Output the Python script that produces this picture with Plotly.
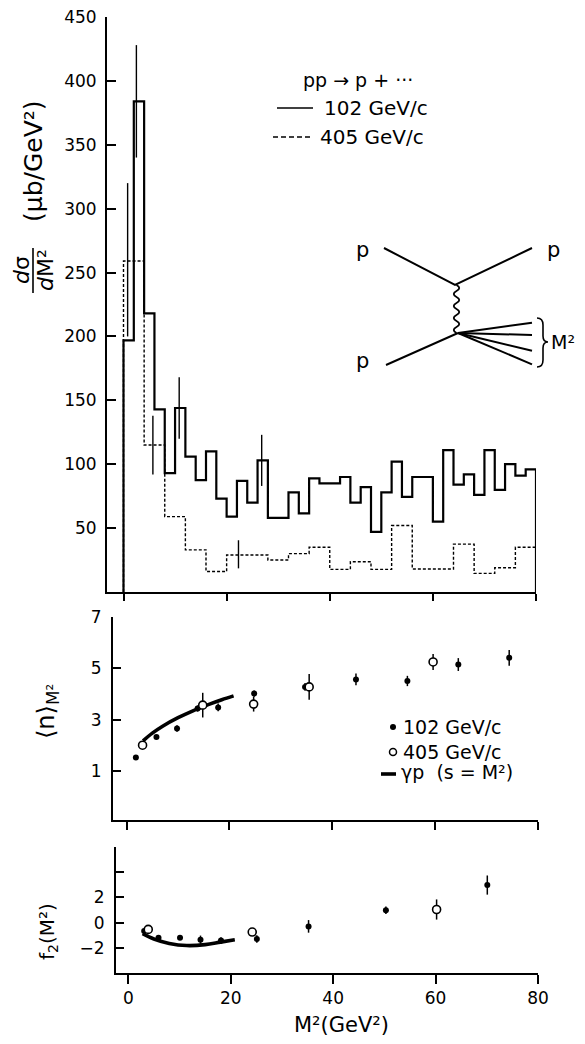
import plotly.graph_objects as go

PAGE_W, PAGE_H = 585, 1044
OFF = 8                      # default body margin of the html page
W, H = PAGE_W - OFF, PAGE_H - OFF
FONT = "DejaVu Sans"

# ---------------- data ----------------
# top panel: d sigma / dM^2 histograms (bin edges in GeV^2, values in microbarn/GeV^2)
edges_102 = [0, 2, 4, 6, 8, 10, 12, 14, 16, 18, 20, 22, 24, 26, 28, 32, 34, 36, 38, 42,
             44, 46, 48, 50, 52, 54, 56, 60, 62, 64, 66, 68, 70, 72, 74, 76, 78, 80]
vals_102 = [197, 384, 218, 143, 93, 144, 106, 87.5, 110, 73, 59, 87, 70, 103, 58, 78, 61.5,
            89, 85, 90, 70, 82, 47, 78, 102, 74.5, 90, 55, 111, 84, 92, 76, 111, 80, 100, 91, 96]
edges_405 = [0, 4, 8, 12, 16, 20, 28, 32, 36, 40, 44, 48, 52, 56, 64, 68, 72, 76, 80]
vals_405 = [259, 115, 59, 33, 16, 29, 25, 30, 35, 17.7, 23.7, 17.7, 52, 18, 37.5, 14.6, 19, 35]

err_x_102 = [2.5, 10.8, 26.8]
err_y_102 = [384, 144, 103]
err_e_102 = [44, 24, 20]
err_x_405 = [0.8, 5.7, 22.3]
err_y_405 = [260, 115, 29.5]
err_e_405 = [60, 23, 11]

# middle panel: <n> vs M^2
m2_102 = [1.8, 5.8, 9.8, 13.8, 17.8, 24.8, 34.7, 44.6, 54.6, 64.5, 74.4]
n_102 = [1.53, 2.33, 2.66, 3.44, 3.48, 4.02, 4.28, 4.57, 4.51, 5.15, 5.41]
n_102_err = [0.04, 0.05, 0.13, 0.12, 0.15, 0.12, 0.15, 0.23, 0.2, 0.25, 0.31]
m2_405 = [3.1, 14.8, 24.7, 35.5, 59.6]
n_405 = [2.01, 3.57, 3.61, 4.28, 5.25]
n_405_err = [0.05, 0.48, 0.29, 0.5, 0.31]
gp_x = [3.2, 5, 7, 10, 13, 16, 18.5, 20.8]
gp_n = [2.18, 2.48, 2.75, 3.08, 3.36, 3.6, 3.78, 3.93]

# bottom panel: f2 vs M^2
f2_x_102 = [3.1, 5.9, 10.1, 14.1, 18.1, 25.1, 35.2, 50.3, 70.1]
f2_102 = [-0.67, -1.2, -1.2, -1.36, -1.42, -1.3, -0.3, 0.98, 2.98]
f2_102_err = [0.1, 0.1, 0.1, 0.33, 0.25, 0.3, 0.5, 0.3, 0.76]
f2_x_405 = [3.9, 24.2, 60.2]
f2_405 = [-0.54, -0.75, 1.04]
f2_405_err = [0.1, 0.25, 0.8]
gp_f2_x = [2.8, 5, 8, 11.4, 15, 18, 20.8]
gp_f2 = [-0.88, -1.3, -1.65, -1.82, -1.75, -1.55, -1.36]

x_ticks = [0, 20, 40, 60, 80]
top_y_ticks = [50, 100, 150, 200, 250, 300, 350, 400, 450]
mid_y_ticks = [1, 3, 5, 7]
bot_y_ticks = [-2, 0, 2]
bot_y_minor = [4, 6]

# Feynman diagram (decoration, pixel coordinates of the page)
diag_x = [384, 455, 532, None, 386, 458, None,
          458, 532, None, 458, 532, None, 458, 532, None, 458, 532]
diag_y = [248, 285, 248, None, 365, 333, None,
          333, 322.7, None, 333, 335, None, 333, 350.7, None, 333, 364.3]
wave_y = [285, 291, 297, 303, 309, 315, 321, 327, 333]

# ---------------- helpers ----------------
def xdom(a, b):
    return [(a - OFF) / W, (b - OFF) / W]

def ydom(top, bottom):
    return [1 - (bottom - OFF) / H, 1 - (top - OFF) / H]

def step_xy(edges, vals):
    xs = [edges[0]] + edges[:-1] + [edges[-1], edges[-1]]
    ys = [0] + vals + [vals[-1], 0]
    return xs, ys

fig = go.Figure()

# ---- top panel ----
sx, sy = step_xy(edges_102, vals_102)
fig.add_trace(go.Scatter(x=sx, y=sy, mode="lines", line=dict(color="black", width=2.2, shape="hv"),
                         xaxis="x", yaxis="y", showlegend=False))
dx, dy = step_xy(edges_405, vals_405)
fig.add_trace(go.Scatter(x=dx, y=dy, mode="lines",
                         line=dict(color="black", width=1.4, shape="hv", dash="3px,2px"),
                         xaxis="x", yaxis="y", showlegend=False))
for ex, ey, ee in [(err_x_102, err_y_102, err_e_102), (err_x_405, err_y_405, err_e_405)]:
    fig.add_trace(go.Scatter(x=ex, y=ey, mode="markers", marker=dict(size=1, opacity=0),
                             error_y=dict(type="data", array=ee, width=0, thickness=1.4, color="black"),
                             xaxis="x", yaxis="y", showlegend=False))

# ---- middle panel ----
fig.add_trace(go.Scatter(x=gp_x, y=gp_n, mode="lines", line=dict(color="black", width=3.6, shape="spline"),
                         xaxis="x2", yaxis="y2", showlegend=False))
fig.add_trace(go.Scatter(x=m2_102, y=n_102, mode="markers",
                         marker=dict(size=6, color="black"),
                         error_y=dict(type="data", array=n_102_err, width=0, thickness=1.5, color="black"),
                         xaxis="x2", yaxis="y2", showlegend=False))
fig.add_trace(go.Scatter(x=m2_405, y=n_405, mode="markers",
                         marker=dict(size=8, color="white", line=dict(color="black", width=1.6)),
                         error_y=dict(type="data", array=n_405_err, width=0, thickness=1.5, color="black"),
                         xaxis="x2", yaxis="y2", showlegend=False))

# ---- bottom panel ----
fig.add_trace(go.Scatter(x=gp_f2_x, y=gp_f2, mode="lines", line=dict(color="black", width=3.6, shape="spline"),
                         xaxis="x3", yaxis="y3", showlegend=False))
fig.add_trace(go.Scatter(x=f2_x_102, y=f2_102, mode="markers",
                         marker=dict(size=6, color="black"),
                         error_y=dict(type="data", array=f2_102_err, width=0, thickness=1.5, color="black"),
                         xaxis="x3", yaxis="y3", showlegend=False))
fig.add_trace(go.Scatter(x=f2_x_405, y=f2_405, mode="markers",
                         marker=dict(size=8, color="white", line=dict(color="black", width=1.6)),
                         error_y=dict(type="data", array=f2_405_err, width=0, thickness=1.5, color="black"),
                         xaxis="x3", yaxis="y3", showlegend=False))

# ---- decoration layer (pixel coordinates of the page) ----
fig.add_trace(go.Scatter(x=diag_x, y=diag_y, mode="lines", line=dict(color="black", width=2),
                         xaxis="x4", yaxis="y4", showlegend=False, hoverinfo="skip"))
# legend samples
fig.add_trace(go.Scatter(x=[277, 313], y=[108, 108], mode="lines", line=dict(color="black", width=1.6),
                         xaxis="x4", yaxis="y4", showlegend=False, hoverinfo="skip"))
fig.add_trace(go.Scatter(x=[273, 310], y=[137, 137], mode="lines", line=dict(color="black", width=1.4, dash="5px,3px"),
                         xaxis="x4", yaxis="y4", showlegend=False, hoverinfo="skip"))
fig.add_trace(go.Scatter(x=[393], y=[727], mode="markers", marker=dict(size=6, color="black"),
                         xaxis="x4", yaxis="y4", showlegend=False, hoverinfo="skip"))
fig.add_trace(go.Scatter(x=[393], y=[752], mode="markers",
                         marker=dict(size=7, color="white", line=dict(color="black", width=1.5)),
                         xaxis="x4", yaxis="y4", showlegend=False, hoverinfo="skip"))
fig.add_trace(go.Scatter(x=[381, 396], y=[774, 774], mode="lines", line=dict(color="black", width=3.6),
                         xaxis="x4", yaxis="y4", showlegend=False, hoverinfo="skip"))

# wavy propagator path
wx = 456.5
path = f"M {wx} {wave_y[0]}"
for i in range(len(wave_y) - 1):
    off = 5.5 if i % 2 == 0 else -5.5
    mid = (wave_y[i] + wave_y[i + 1]) / 2
    path += f" Q {wx + off} {mid} {wx} {wave_y[i + 1]}"
shapes = [
    dict(type="path", path=path, xref="x4", yref="y4", line=dict(color="black", width=1.8)),
    dict(type="path", xref="x4", yref="y4", line=dict(color="black", width=1.6),
         path="M 537 318 Q 543 318 543 325 L 543 336 Q 543 342 548 342 Q 543 342 543 348 L 543 360 Q 543 367 537 367"),
    # fraction bar of the y title
    dict(type="line", xref="x4", yref="y4", x0=33, x1=33, y0=248, y1=293, line=dict(color="black", width=1.6)),
]

tf = dict(family=FONT, size=17, color="black")

def ann(x, y, text, size=20, angle=0, xanchor="center"):
    return dict(x=x, y=y, xref="x4", yref="y4", text=text, showarrow=False, textangle=angle,
                xanchor=xanchor, yanchor="middle", font=dict(family=FONT, size=size, color="black"))

annotations = [
    ann(358, 80, "pp → p + ···", 19),
    ann(322, 108, "102 GeV/c", 20, xanchor="left"),
    ann(318, 137, "405 GeV/c", 20, xanchor="left"),
    ann(362, 250, "p", 21), ann(553, 250, "p", 21), ann(362, 361, "p", 21),
    ann(563, 342, "M²", 19),
    ann(401, 727, "102 GeV/c", 19, xanchor="left"),
    ann(401, 752, "405 GeV/c", 19, xanchor="left"),
    ann(399, 772, "γp  (s = M²)", 19, xanchor="left"),
    ann(21, 270, "<i>d</i>σ", 22, -90),
    ann(45, 270, "<i>d</i>M²", 22, -90),
    ann(33, 161, "(μb/GeV²)", 25, -90),
    ann(47, 712, "⟨n⟩<sub>M²</sub>", 24, -90),
    ann(48, 932, "f<sub>2</sub>(M²)", 20, -90),
    ann(341, 1025, "M²(GeV²)", 21),
]

axis_common = dict(showgrid=False, zeroline=False, showline=True, linecolor="black", linewidth=2,
                   tickcolor="black", tickwidth=2, tickfont=tf, automargin=False,
                   ticklabeloverflow="allow")
hidden = dict(visible=False, fixedrange=True, automargin=False, showticklabels=False,
              showgrid=False, zeroline=False, showline=False, ticks="")

fig.update_layout(
    width=W, height=H,
    margin=dict(l=0, r=0, t=0, b=0, pad=0, autoexpand=False),
    paper_bgcolor="white", plot_bgcolor="rgba(0,0,0,0)",
    showlegend=False,
    xaxis=dict(domain=xdom(107, 536), range=[-3.2, 80], anchor="y", tickvals=x_ticks,
               ticks="outside", ticklen=7, showticklabels=False, **axis_common),
    yaxis=dict(domain=ydom(17, 592), range=[0, 450], anchor="x", tickvals=top_y_ticks,
               ticks="inside", ticklen=9, ticklabelstandoff=5, **axis_common),
    xaxis2=dict(domain=xdom(113, 538), range=[-2.65, 80], anchor="y2", tickvals=x_ticks,
                ticks="outside", ticklen=8, showticklabels=False, **axis_common),
    yaxis2=dict(domain=ydom(617, 820), range=[-0.9, 7], anchor="x2", tickvals=mid_y_ticks,
                ticks="inside", ticklen=8, ticklabelstandoff=6, **axis_common),
    xaxis3=dict(domain=xdom(116, 538), range=[-2.4, 80], anchor="y3", tickvals=x_ticks,
                ticks="outside", ticklen=9, **axis_common),
    yaxis3=dict(domain=ydom(847, 973), range=[-4, 6], anchor="x3", tickvals=bot_y_ticks,
                ticks="inside", ticklen=8, ticklabelstandoff=6,
                minor=dict(tickvals=bot_y_minor, ticks="inside", ticklen=8, tickwidth=2, tickcolor="black"),
                **axis_common),
    xaxis4=dict(domain=[0, 1], range=[OFF, PAGE_W], anchor="y4", **hidden),
    yaxis4=dict(domain=[0, 1], range=[PAGE_H, OFF], anchor="x4", **hidden),
    shapes=shapes,
    annotations=annotations,
)

fig.write_html("out.html")
